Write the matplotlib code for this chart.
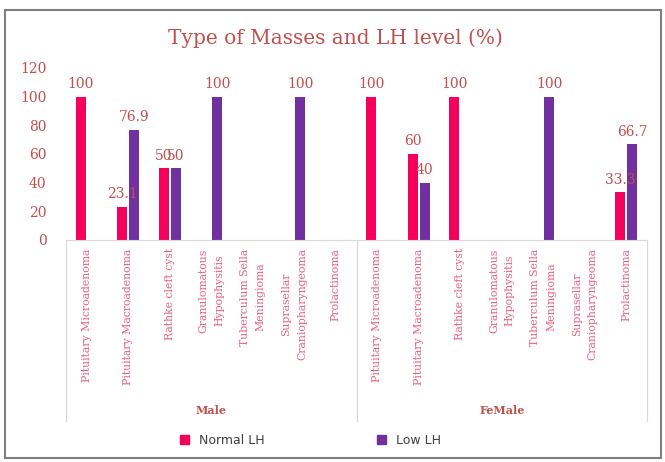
import numpy as np
import matplotlib.pyplot as plt
from matplotlib.patches import Rectangle

groups = ["Male", "FeMale"]
masses = ["Pituitary Microadenoma", "Pituitary Macroadenoma", "Rathke cleft cyst",
          "Granulomatous\nHypophysitis", "Tuberculum Sella\nMeningioma",
          "Suprasellar\nCraniopharyngeoma", "Prolactinoma"]
normal_lh = [100, 23.1, 50, 0, 0, 0, 0,
             100, 60, 100, 0, 0, 0, 33.3]
low_lh = [0, 76.9, 50, 100, 0, 100, 0,
          0, 40, 0, 0, 100, 0, 66.7]

c_norm = "#F5005A"
c_low = "#7030A0"
c_text = "#C0504D"
c_cat = "#E8607F"

fig = plt.figure(figsize=(6.65, 4.62), dpi=100)
ax = fig.add_axes([66/665, 1-240/462, 581/665, 172/462])

x = np.arange(len(normal_lh))
w = 0.24
off = 0.145
for i in range(len(x)):
    if normal_lh[i] > 0:
        ax.bar(x[i]-off, normal_lh[i], w, color=c_norm)
        ax.text(x[i]-off, normal_lh[i]+4, f"{normal_lh[i]:g}", ha="center", va="bottom",
                family="DejaVu Serif", fontsize=10, color=c_text)
    if low_lh[i] > 0:
        ax.bar(x[i]+off, low_lh[i], w, color=c_low)
        ax.text(x[i]+off, low_lh[i]+4, f"{low_lh[i]:g}", ha="center", va="bottom",
                family="DejaVu Serif", fontsize=10, color=c_text)

ax.set_xlim(-0.5, len(x)-0.5)
ax.set_ylim(0, 120)
ax.set_yticks(range(0, 121, 20))
ax.tick_params(axis="y", length=0, labelcolor=c_text, labelsize=10, pad=14)
for lab in ax.get_yticklabels():
    lab.set_family("DejaVu Serif")
ax.set_xticks(x)
ax.set_xticklabels(masses*2, rotation=90, va="top", ha="center", fontsize=7.8,
                   family="DejaVu Serif", color=c_cat, linespacing=1.7)
ax.tick_params(axis="x", length=0, pad=6)
for s in ["top", "right", "left"]:
    ax.spines[s].set_visible(False)
ax.spines["bottom"].set_color("#D9D9D9")

# group separators and labels
for b in [-0.5, 6.5, 13.5]:
    ax.plot([b, b], [0, -126], color="#D9D9D9", lw=0.8, clip_on=False)
for g, c in zip(groups, [3, 10]):
    ax.text(c, -119, g, ha="center", va="center", fontsize=8, fontweight="bold",
            family="DejaVu Serif", color=c_text)

fig.text(0.505, 1-38/462, "Type of Masses and LH level (%)", ha="center", va="center",
         family="DejaVu Serif", fontsize=14.5, color=c_text)

h1 = plt.Rectangle((0, 0), 1, 1, color=c_norm)
h2 = plt.Rectangle((0, 0), 1, 1, color=c_low)
fig.legend([h1, h2], ["Normal LH", "Low LH"], loc="center", bbox_to_anchor=(0.467, 1-440/462),
           ncol=2, frameon=False, fontsize=9, handlelength=0.7, handleheight=0.7,
           columnspacing=9, labelcolor="#404040")

fig.patches.append(Rectangle((5/665, 4/462), 656/665, 448/462, transform=fig.transFigure,
                             fill=False, edgecolor="#7F7F7F", lw=1.5))

fig.savefig("out.png", dpi=100)
